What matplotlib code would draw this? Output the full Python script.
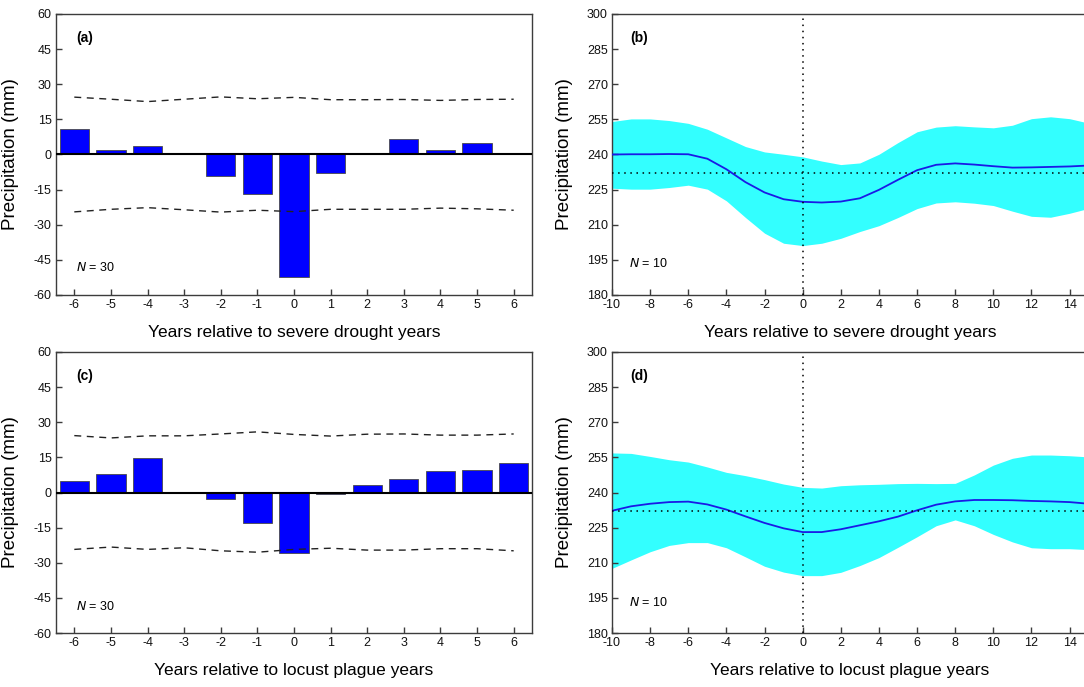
#!/usr/bin/env python3
"""
Precipitation anomalies around severe drought / locust plague years.

Output: out.png
"""

import matplotlib.pyplot as plt

plt.rcParams["font.family"] = ["Liberation Sans", "DejaVu Sans"]
plt.rcParams["axes.unicode_minus"] = False

# panel (a) / (c): superposed epoch bars with confidence bounds
EPOCH_YEARS = [-6, -5, -4, -3, -2, -1, 0, 1, 2, 3, 4, 5, 6]

DROUGHT_BARS = [11.1, 1.8, 3.7, 0.4, -9.0, -16.8, -52.3, -8.0, 0.0, 6.8, 1.8, 5.1, 0.4]
DROUGHT_UPPER = [24.5, 23.6, 22.6, 23.6, 24.6, 23.8, 24.4, 23.4, 23.4, 23.5, 23.1, 23.5, 23.6]
DROUGHT_LOWER = [-24.5, -23.4, -22.7, -23.6, -24.6, -23.8, -24.4, -23.4, -23.4, -23.4, -22.9, -23.2, -23.8]

LOCUST_BARS = [4.7, 8.0, 14.8, 0.0, -2.8, -13.2, -26.0, -0.6, 3.1, 5.8, 9.0, 9.8, 12.7]
LOCUST_UPPER = [24.3, 23.3, 24.2, 24.2, 25.0, 25.9, 24.8, 24.1, 24.9, 25.0, 24.5, 24.5, 25.0]
LOCUST_LOWER = [-24.3, -23.3, -24.3, -23.6, -24.9, -25.5, -24.3, -23.8, -24.6, -24.6, -24.0, -24.0, -24.9]

# panel (b) / (d): mean precipitation with band
SPAN_YEARS = list(range(-10, 17))
SPAN_TICKS = list(range(-10, 15, 2))

DROUGHT_MEAN = [240.0, 240.1, 240.1, 240.2, 240.1, 238.2, 233.7, 228.2, 223.8, 220.9,
                219.8, 219.5, 219.9, 221.3, 224.9, 229.2, 233.3, 235.6, 236.2, 235.7,
                235.0, 234.4, 234.5, 234.7, 234.9, 235.3, 235.6]
DROUGHT_BAND_HI = [254.1, 255.2, 255.2, 254.5, 253.3, 250.8, 247.1, 243.4, 241.1, 240.1,
                   239.0, 237.2, 235.7, 236.4, 240.1, 245.1, 249.7, 251.7, 252.3, 251.8,
                   251.4, 252.5, 255.3, 256.1, 255.3, 253.4, 252.0]
DROUGHT_BAND_LO = [225.6, 225.2, 225.2, 225.9, 226.9, 225.2, 220.2, 213.1, 206.4, 202.1,
                   201.1, 202.1, 204.2, 207.1, 209.6, 213.1, 216.9, 219.3, 219.8, 219.2,
                   218.2, 215.8, 213.6, 213.2, 214.9, 217.0, 218.5]

LOCUST_MEAN = [232.2, 234.1, 235.2, 235.9, 236.1, 234.9, 232.7, 229.8, 227.0, 224.7,
               223.1, 223.1, 224.3, 226.0, 227.7, 229.7, 232.4, 234.8, 236.2, 236.8,
               236.8, 236.7, 236.4, 236.2, 235.9, 235.2, 234.8]
LOCUST_BAND_HI = [256.9, 256.7, 255.4, 254.0, 253.0, 250.9, 248.6, 247.2, 245.5, 243.6,
                  242.2, 241.9, 242.9, 243.3, 243.5, 243.8, 243.9, 243.8, 243.9, 247.5,
                  251.7, 254.6, 256.0, 256.0, 255.7, 255.2, 254.6]
LOCUST_BAND_LO = [207.6, 211.2, 214.7, 217.4, 218.6, 218.6, 216.4, 212.5, 208.5, 206.0,
                  204.5, 204.5, 205.9, 208.8, 212.2, 216.6, 221.1, 225.8, 228.3, 225.8,
                  222.1, 218.9, 216.4, 216.0, 216.0, 215.6, 215.5]

CLIMATE_MEAN = 232.2

BAR_COLOR = "#0000ff"
BAND_COLOR = "#33ffff"
LINE_COLOR = "#1a1ae6"
SPINE_COLOR = "#3c3c3c"

FIG_W, FIG_H = 1084, 687

# pixel boxes of the panels (left, top, right, bottom); right panels run off the page
LEFT_X = (56, 532)
RIGHT_X = (612, 1184)
TOP_Y = (14, 295)
BOTTOM_Y = (352, 633)


def frac(xs, ys):
    left, right = xs
    top, bottom = ys
    return [left / FIG_W, 1 - bottom / FIG_H, (right - left) / FIG_W, (bottom - top) / FIG_H]


def to_axes(xs, ys, px, py):
    return (px - xs[0]) / (xs[1] - xs[0]), (ys[1] - py) / (ys[1] - ys[0])


def style_axes(ax, xs, ys, label_px, xlabel_px):
    for spine in ax.spines.values():
        spine.set_linewidth(1.0)
        spine.set_color(SPINE_COLOR)
    ax.tick_params(direction="in", length=4, width=1.0, labelsize=9,
                   colors=SPINE_COLOR, labelcolor="#111111", pad=3)
    ax.set_ylabel("Precipitation (mm)", fontsize=13.5)
    ax.yaxis.set_label_coords(*to_axes(xs, ys, label_px, (ys[0] + ys[1]) / 2))
    ax.xaxis.set_label_coords(*to_axes(xs, ys, xlabel_px, ys[1] + 30))


def plot_bars(ax, ys, values, upper, lower, label, xlabel):
    xs = LEFT_X
    ax.bar(EPOCH_YEARS, values, width=0.8, color=BAR_COLOR,
           edgecolor="#4a4a4a", linewidth=0.6, zorder=2)
    ax.axhline(0, color="black", linewidth=1.5, zorder=3)
    ax.plot(EPOCH_YEARS, upper, color="#222222", linestyle=(0, (5, 4)), linewidth=1.0)
    ax.plot(EPOCH_YEARS, lower, color="#222222", linestyle=(0, (5, 4)), linewidth=1.0)
    ax.set_xlim(-6.5, 6.5)
    ax.set_ylim(-60, 60)
    ax.set_xticks(EPOCH_YEARS)
    ax.set_yticks(range(-60, 61, 15))
    ax.set_xlabel(xlabel, fontsize=12.5)
    style_axes(ax, xs, ys, 19, 294)
    ax.text(*to_axes(xs, ys, 76, ys[0] + 24), label, transform=ax.transAxes,
            fontsize=10, fontweight="bold", va="center")
    ax.text(*to_axes(xs, ys, 76, ys[1] - 27), "$\\it{N}$ = 30",
            transform=ax.transAxes, fontsize=9, va="center")


def plot_band(ax, ys, mean, hi, lo, label, xlabel):
    xs = RIGHT_X
    ax.fill_between(SPAN_YEARS, lo, hi, color=BAND_COLOR, linewidth=0, zorder=1)
    ax.plot(SPAN_YEARS, mean, color=LINE_COLOR, linewidth=1.3, zorder=3)
    ax.axhline(CLIMATE_MEAN, color="black", linestyle=(0, (1, 3)), linewidth=1.1, zorder=4)
    ax.axvline(0, color="black", linestyle=(0, (1, 3)), linewidth=1.1, zorder=4)
    ax.set_xlim(-10, 20)
    ax.set_ylim(180, 300)
    ax.set_xticks(SPAN_TICKS)
    ax.set_yticks(range(180, 301, 15))
    ax.set_xlabel(xlabel, fontsize=12.5)
    style_axes(ax, xs, ys, 573, 850)
    ax.text(*to_axes(xs, ys, 630, ys[0] + 24), label, transform=ax.transAxes,
            fontsize=10, fontweight="bold", va="center")
    ax.text(*to_axes(xs, ys, 629, ys[1] - 31), "$\\it{N}$ = 10",
            transform=ax.transAxes, fontsize=9, va="center")


def main():
    fig = plt.figure(figsize=(FIG_W / 100, FIG_H / 100), dpi=100)

    ax_a = fig.add_axes(frac(LEFT_X, TOP_Y))
    plot_bars(ax_a, TOP_Y, DROUGHT_BARS, DROUGHT_UPPER, DROUGHT_LOWER, "(a)",
              "Years relative to severe drought years")

    ax_b = fig.add_axes(frac(RIGHT_X, TOP_Y))
    plot_band(ax_b, TOP_Y, DROUGHT_MEAN, DROUGHT_BAND_HI, DROUGHT_BAND_LO, "(b)",
              "Years relative to severe drought years")

    ax_c = fig.add_axes(frac(LEFT_X, BOTTOM_Y))
    plot_bars(ax_c, BOTTOM_Y, LOCUST_BARS, LOCUST_UPPER, LOCUST_LOWER, "(c)",
              "Years relative to locust plague years")

    ax_d = fig.add_axes(frac(RIGHT_X, BOTTOM_Y))
    plot_band(ax_d, BOTTOM_Y, LOCUST_MEAN, LOCUST_BAND_HI, LOCUST_BAND_LO, "(d)",
              "Years relative to locust plague years")

    fig.savefig("out.png", dpi=100)


if __name__ == "__main__":
    main()
